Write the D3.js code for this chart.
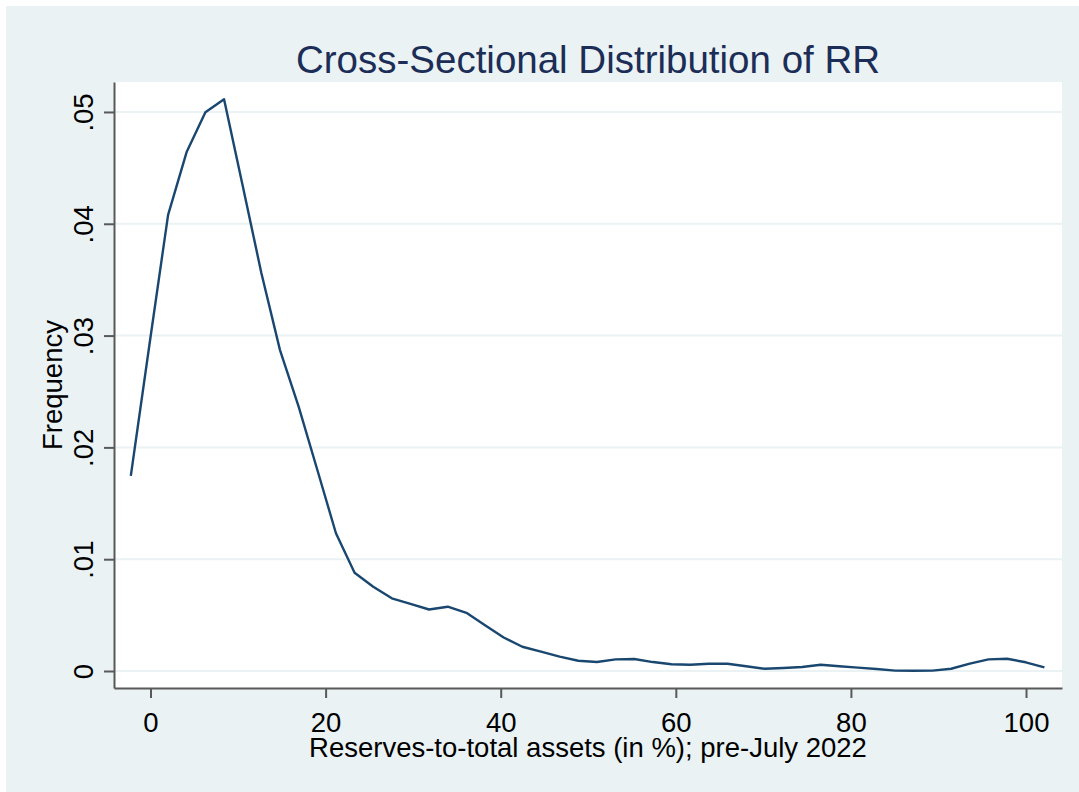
<!DOCTYPE html>
<html>
<head>
<meta charset="utf-8">
<script src="https://cdn.jsdelivr.net/npm/d3@7"></script>
<style>
  html, body { margin: 0; padding: 0; background: #ffffff; }
  svg { display: block; }
  text { font-family: "Liberation Sans", Arial, sans-serif; }
</style>
</head>
<body>
<svg id="chart" width="1079" height="792"></svg>
<script>
// ---- Data ----
const titleText = "Cross-Sectional Distribution of RR";
const xTitle = "Reserves-to-total assets (in %); pre-July 2022";
const yTitle = "Frequency";

// evaluation points of the density (reserves-to-total assets, %)
const rrPoints = [
  -2.25, -0.12, 2.01, 4.14, 6.27, 8.40, 10.53, 12.66, 14.79, 16.92,
  19.05, 21.18, 23.31, 25.44, 27.56, 29.69, 31.82, 33.95, 36.08, 38.21,
  40.34, 42.47, 44.60, 46.73, 48.86, 50.99, 53.12, 55.25, 57.38, 59.51,
  61.64, 63.77, 65.90, 68.03, 70.16, 72.29, 74.42, 76.55, 78.68, 80.80,
  82.93, 85.06, 87.19, 89.32, 91.45, 93.58, 95.71, 97.84, 99.97, 102.10
];
// estimated density (frequency) at each point
const frequency = [
  0.01745, 0.0292, 0.0408, 0.04645, 0.04997, 0.05114, 0.0434, 0.0356, 0.0287, 0.02365,
  0.0180, 0.01232, 0.00879, 0.00754, 0.0065, 0.0060, 0.0055, 0.00575, 0.0052, 0.0041,
  0.0030, 0.00217, 0.00173, 0.00128, 0.00092, 0.0008, 0.00104, 0.00107, 0.0008, 0.0006,
  0.00056, 0.00065, 0.00065, 0.00042, 0.0002, 0.00027, 0.00036, 0.00056, 0.00042, 0.0003,
  0.00018, 0.00003, 0.00002, 0.00003, 0.0002, 0.00066, 0.00104, 0.0011, 0.00078, 0.00033
];

const xTicks = [0, 20, 40, 60, 80, 100];
const yTicks = [0, 0.01, 0.02, 0.03, 0.04, 0.05];
const yTickLabels = ["0", ".01", ".02", ".03", ".04", ".05"];

// ---- Layout ----
const svg = d3.select("#chart");
const W = 1079, H = 792;
const plot = { left: 114, right: 1062, top: 82, bottom: 688 };

const x = d3.scaleLinear().domain([-4.17, 104.11]).range([plot.left, plot.right]);
const y = d3.scaleLinear().domain([-0.00152, 0.05268]).range([plot.bottom, plot.top]);

// outer background (Stata-like)
svg.append("rect").attr("x", 6).attr("y", 6).attr("width", W - 6).attr("height", H - 6)
  .attr("fill", "#EAF2F3");

// plot region
svg.append("rect")
  .attr("x", plot.left).attr("y", plot.top)
  .attr("width", plot.right - plot.left).attr("height", plot.bottom - plot.top)
  .attr("fill", "#ffffff");

// gridlines
svg.append("g").selectAll("line").data(yTicks).join("line")
  .attr("x1", plot.left).attr("x2", plot.right)
  .attr("y1", d => y(d)).attr("y2", d => y(d))
  .attr("stroke", "#EAF2F3").attr("stroke-width", 2);

// density line
const line = d3.line().x((d, i) => x(rrPoints[i])).y(d => y(d));
svg.append("path").datum(frequency)
  .attr("d", line)
  .attr("fill", "none")
  .attr("stroke", "#1A476F")
  .attr("stroke-width", 2.4)
  .attr("stroke-linejoin", "round");

// axes
const axisColor = "#595959";
const yAxis = d3.axisLeft(y).tickValues(yTicks).tickSize(10).tickSizeOuter(0)
  .tickFormat((d, i) => yTickLabels[i]);
const gy = svg.append("g").attr("transform", `translate(${plot.left},0)`).call(yAxis);
gy.select(".domain").attr("stroke", axisColor).attr("stroke-width", 2);
gy.selectAll(".tick line").attr("stroke", axisColor).attr("stroke-width", 2);
gy.selectAll(".tick text")
  .attr("font-size", 27.5).attr("fill", "#000")
  .attr("x", 0).attr("dy", 0)
  .attr("text-anchor", "middle")
  .attr("transform", "translate(-21,0) rotate(-90)");

const xAxis = d3.axisBottom(x).tickValues(xTicks).tickSize(10).tickSizeOuter(0)
  .tickFormat(d3.format("d"));
const gx = svg.append("g").attr("transform", `translate(0,${plot.bottom})`).call(xAxis);
gx.select(".domain").attr("stroke", axisColor).attr("stroke-width", 2);
gx.selectAll(".tick line").attr("stroke", axisColor).attr("stroke-width", 2);
gx.selectAll(".tick text")
  .attr("font-size", 27.5).attr("fill", "#000")
  .attr("y", 44).attr("dy", 0);

// titles
const cx = (plot.left + plot.right) / 2;
svg.append("text").attr("x", cx).attr("y", 73)
  .attr("text-anchor", "middle").attr("font-size", 38.5).attr("fill", "#1C2D57")
  .text(titleText);

svg.append("text").attr("x", cx).attr("y", 757)
  .attr("text-anchor", "middle").attr("font-size", 27.5).attr("fill", "#000")
  .text(xTitle);

svg.append("text")
  .attr("transform", `translate(62,${(plot.top + plot.bottom) / 2}) rotate(-90)`)
  .attr("text-anchor", "middle").attr("font-size", 27.5).attr("fill", "#000")
  .text(yTitle);
</script>
</body>
</html>
